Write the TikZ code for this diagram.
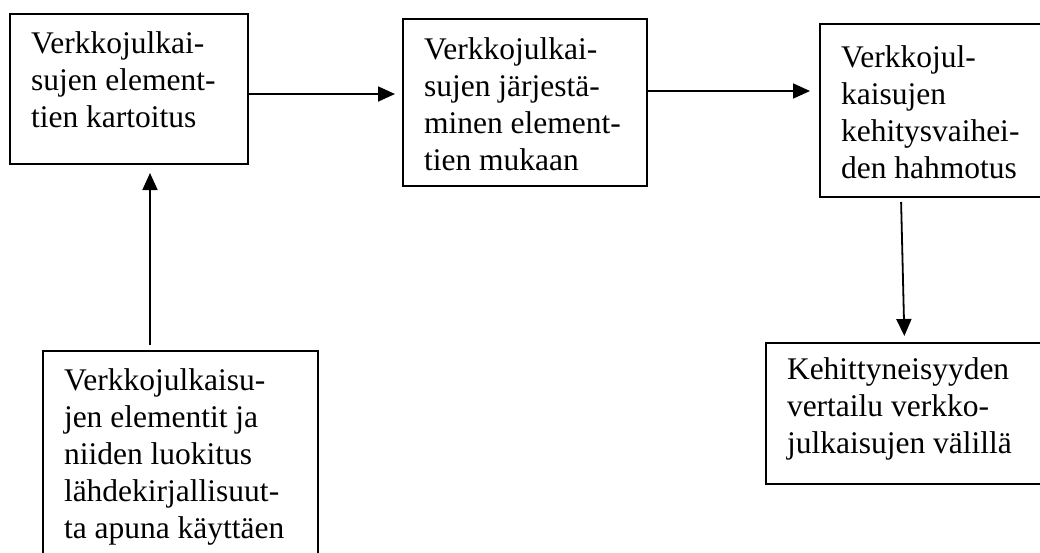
\documentclass[tikz,border=0pt]{standalone}
\usepackage{fontspec}
\setmainfont{Liberation Serif}
\usetikzlibrary{arrows.meta}

\newcommand{\stagetext}[4][18]{\parbox[t][#3pt][t]{#2pt}{\raggedright\leftskip=21pt\vspace*{#1pt}#4}}

\begin{document}
\begin{tikzpicture}[x=1pt,y=-1pt,>={Triangle[length=17pt,width=15pt]},line width=1.8pt,
  stage/.style={draw,line width=2pt,inner sep=0pt,anchor=north west,font=\fontsize{31.5}{37}\selectfont}]
\useasboundingbox (0,0) rectangle (1040,552);
\node[stage] (kartoitus) at (9,13) {\stagetext{238}{150}{Verkkojulkai-\\sujen element-\\tien kartoitus}};
\node[stage] (jarjestaminen) at (402,18) {\stagetext[19]{244}{167}{Verkkojulkai-\\sujen järjestä-\\minen element-\\tien mukaan}};
\node[stage] (hahmotus) at (819,23) {\stagetext[22]{223}{173}{Verkkojul-\\kaisujen\\kehitysvaihei-\\den hahmotus}};
\node[stage] (lahteet) at (42,350) {\stagetext{275}{210}{Verkkojulkaisu-\\jen elementit ja\\niiden luokitus\\lähdekirjallisuut-\\ta apuna käyttäen}};
\node[stage] (vertailu) at (765,342) {\stagetext[15]{277}{141}{Kehittyneisyyden\\vertailu verkko-\\julkaisujen välillä}};

\draw[->,shorten >=7pt] ([yshift=-5pt]kartoitus.east) -- ([yshift=8.5pt]jarjestaminen.west);
\draw[->,shorten >=9pt] ([yshift=11.5pt]jarjestaminen.east) -- ([yshift=19.5pt]hahmotus.west);
\draw[->,shorten <=4pt,shorten >=6pt] ([xshift=-30.5pt]hahmotus.south) -- (vertailu.north);
\draw[->,shorten <=5pt,shorten >=8pt] ([xshift=-30.5pt]lahteet.north) -- ([xshift=21pt]kartoitus.south);
\end{tikzpicture}
\end{document}
